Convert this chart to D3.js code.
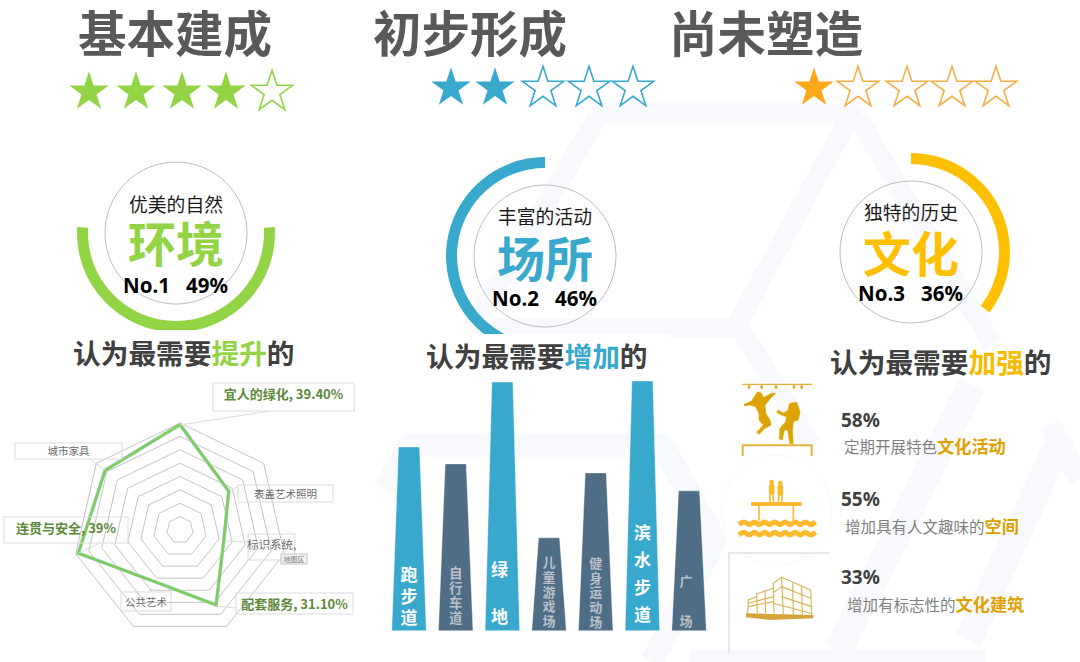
<!DOCTYPE html>
<html><head><meta charset="utf-8">
<script src="https://cdn.jsdelivr.net/npm/d3@7/dist/d3.min.js"></script>
<style>html,body{margin:0;padding:0;background:#fff}svg{display:block}text{font-family:"Noto Sans CJK SC","Noto Sans",sans-serif}</style>
</head><body><svg id="c" width="1080" height="662" viewBox="0 0 1080 662"></svg>
<script>
// ---- data ----
const headlines = ["基本建成","初步形成","尚未塑造"];
const starCounts = [4,2,1];
const circleLabels = ["优美的自然","丰富的活动","独特的历史"];
const circleWords = ["环境","场所","文化"];
const ranks = ["No.1","No.2","No.3"];
const shares = [49,46,36];
const subtitlePrefix = "认为最需要";
const subtitleWords = ["提升","增加","加强"];
const radarCats = ["宜人的绿化","表盖艺术照明","标识系统","配套服务","公共艺术","连贯与安全","城市家具"];
const radarVals = [39.4,23.3,16.8,31.1,21.5,39,35.8];
const barCats = ["跑步道","自行车道","绿地","儿童游戏场","健身运动场","滨水步道","广场"];
const barVals = [184,167,249,93,158,250,140];
const barHighlight = [true,false,true,false,false,true,false];
const listPct = ["58%","55%","33%"];
const listText = ["定期开展特色","增加具有人文趣味的","增加有标志性的"];
const listBold = ["文化活动","空间","文化建筑"];

// ---- styles ----
const GREEN="#92d446",BLUE="#38a8cd",YELLOW="#ffc000",SLATE="#4f6d85",GOLD="#e0a000";
const svg=d3.select("#c");

// ---- watermark ----
const wm=svg.append("g").attr("fill","none").attr("stroke","#f7f9fc").attr("stroke-linejoin","round").attr("stroke-linecap","butt");
[[[[472,328],[600,113],[852,113],[735,328],[472,328]],20],
 [[[858,118],[993,345]],20],[[[740,328],[812,445]],20],
 [[[385,490],[410,445],[662,445],[715,540],[652,662]],24],
 [[[972,385],[838,650]],28],[[[1062,436],[968,640]],28],[[[690,656],[985,656]],13],[[[1050,425],[1080,480]],22]]
 .forEach(([p,w])=>wm.append("path").attr("d",d3.line()(p)).attr("stroke-width",w));
svg.append("circle").attr("cx",777).attr("cy",510).attr("r",55).attr("fill","#fff").attr("stroke","#f8f8f9");
svg.append("path").attr("d","M729 653V553H829").attr("fill","none").attr("stroke","#e6e8ec").attr("stroke-width",2);

// ---- headlines + stars ----
const hx=[175,470,766], colors=[GREEN,BLUE,YELLOW];
headlines.forEach((t,i)=>svg.append("text").attr("x",hx[i]).attr("y",52).attr("text-anchor","middle")
  .attr("font-size",48.5).attr("font-weight",700).attr("fill","#595959").text(t));
const starX=[[89,136,182,226,272],[451,495,543,589,633],[814,858,907,952,996]];
const starY=[92,88,88], starFill=[GREEN,BLUE,"#ffa71a"], starLine=[GREEN,BLUE,"#f5ae45"];
const filledStar=d3.symbol().type(d3.symbolStar).size(480)(), openStar=d3.symbol().type(d3.symbolStar).size(530)();
starX.forEach((xs,i)=>xs.forEach((x,j)=>{
  const f=j<starCounts[i];
  svg.append("path").attr("d",f?filledStar:openStar).attr("transform",`translate(${x},${starY[i]})`)
    .attr("fill",f?starFill[i]:"#fff").attr("stroke",starLine[i]).attr("stroke-width",f?0:1.6);
}));

// ---- ring gauges ----
const cx=[176,545,911], cy=[233,256,252], tx=[176,545,911];
const labelY=[212,224,220], wordY=[262,277,272], rankY=[293,306,301];
const rad=d=>d*Math.PI/180;
const deg=d3.scaleLinear().domain([0,100]).range([0,360]);
const arcs=[[86.5,273.5],[-deg(shares[1]),0],[0,deg(shares[2])-2]];
const ring=d3.arc().innerRadius(88).outerRadius(99);
cx.forEach((x,i)=>{
  svg.append("path").attr("transform",`translate(${x},${cy[i]})`).attr("fill",colors[i])
    .attr("d",ring({startAngle:rad(arcs[i][0]),endAngle:rad(arcs[i][1])}));
  svg.append("circle").attr("cx",x).attr("cy",cy[i]).attr("r",71).attr("fill","none").attr("stroke","#bdbdbd").attr("stroke-width",1);
  svg.append("text").attr("x",tx[i]).attr("y",labelY[i]).attr("text-anchor","middle").attr("font-size",18.8).attr("fill","#1a1a1a").text(circleLabels[i]);
  svg.append("text").attr("x",tx[i]).attr("y",wordY[i]).attr("text-anchor","middle").attr("font-size",48).attr("font-weight",700).attr("fill",colors[i]).text(circleWords[i]);
  svg.append("text").attr("x",tx[i]-.5).attr("y",rankY[i]).attr("text-anchor","middle").attr("font-size",20.5).attr("font-weight",700).attr("fill","#000")
    .attr("style","font-family:'Noto Sans',sans-serif").text(ranks[i]+"\u00a0\u00a0\u00a0"+shares[i]+"%");
});

// ---- subtitles ----
const subX=[73,426,830], subY=[364,367,373];
svg.append("rect").attr("x",60).attr("y",330).attr("width",250).attr("height",40).attr("fill","#fff");
svg.append("rect").attr("x",420).attr("y",334).attr("width",250).attr("height",48).attr("fill","#fff");
subX.forEach((x,i)=>{
  const t=svg.append("text").attr("x",x).attr("y",subY[i]).attr("font-size",27.7).attr("font-weight",700).attr("fill","#404040");
  t.append("tspan").text(subtitlePrefix);
  t.append("tspan").attr("fill",["#92d446",BLUE,"#f5bc00"][i]).text(subtitleWords[i]);
  t.append("tspan").text("的");
});

// ---- radar ----
const radarC=[180,530];
const r=d3.scaleLinear().domain([0,40]).range([0,107]);
const ang=d=>d*2*Math.PI/radarCats.length;
const radar=svg.append("g").attr("transform",`translate(${radarC})`);
const polyLine=d3.lineRadial().curve(d3.curveLinearClosed).angle((d,i)=>ang(i)).radius(d=>r(d));
d3.range(5,45,5).forEach(v=>radar.append("path").attr("d",polyLine(radarCats.map(()=>v)))
  .attr("fill","none").attr("stroke","#c4c4c4").attr("stroke-width",1));
radar.append("path").attr("d",polyLine(radarVals)).attr("fill","none").attr("stroke","#a9d4ee").attr("stroke-width",3.6);
radar.append("path").attr("d",polyLine(radarVals)).attr("fill","none").attr("stroke","#82cc5a").attr("stroke-width",2.7).attr("stroke-linejoin","round");
const lab=[
 {t:radarCats[0]+", "+radarVals[0].toFixed(2)+"%",b:[213,383,141,28],bold:1,lx:[[180,425],[270,411]]},
 {t:radarCats[1],b:[238,485,95,17],lx:[[230,490],[238,487]]},
 {t:radarCats[2]+",",b:[248,534,47,26],lx:[[225,541],[248,542]],size:11.5},
 {t:radarCats[3]+", "+radarVals[3].toFixed(2)+"%",b:[236,593,117,21],bold:1,lx:[[217,606],[236,608]]},
 {t:radarCats[4],b:[121,592,50,19],lx:[[152,588],[150,592]]},
 {t:radarCats[5]+", "+radarVals[5]+"%",b:[4,517,124,26],bold:1,lx:[[79,553],[100,543]]},
 {t:radarCats[6],b:[15,443,107,16],lx:[[105,470],[90,459]]}
];
lab.forEach(d=>{
  svg.append("path").attr("d",d3.line()(d.lx)).attr("stroke","#dcdcdc").attr("fill","none");
  svg.append("rect").attr("x",d.b[0]).attr("y",d.b[1]).attr("width",d.b[2]).attr("height",d.b[3]).attr("fill","none").attr("stroke","#dcdcdc").attr("stroke-width",1);
  svg.append("text").attr("x",d.b[0]+d.b[2]/2).attr("y",d.b[1]+Math.min(d.b[3],21)/2+(d.bold?5:4)).attr("text-anchor","middle")
    .attr("font-size",d.bold?13:(d.size||10.5)).attr("font-weight",d.bold?700:400).attr("fill",d.bold?"#5c8a3a":"#6b6b6b").text(d.t);
});
svg.append("rect").attr("x",281).attr("y",554).attr("width",26).attr("height",10).attr("fill","#f3f3f3").attr("stroke","#c4c4c4");
svg.append("text").attr("x",294).attr("y",562).attr("text-anchor","middle").attr("font-size",7).attr("fill","#777").text("地图区");

// ---- bars ----
const bx=d3.scaleBand().domain(barCats).range([385.7,712.4]);
const by=d3.scaleLinear().domain([0,250]).range([630.7,381]);
const barTop=.225, barBot=.37;
const barText={ // size, first-char baseline, step
 "跑步道":[17,581,21.7],"自行车道":[13.5,578,15],"绿地":[17,576,46.6],"儿童游戏场":[13,567,14.8],
 "健身运动场":[13,568,14.7],"滨水步道":[17,539,27.3],"广场":[13,586,40]};
const barOff=[0,0,-3,0,0,0,-3];
barCats.forEach((c,i)=>{
  const m=bx(c)+bx.bandwidth()/2, w=bx.bandwidth();
  svg.append("path").attr("d",d3.line()([[m-w*barTop,by(barVals[i])],[m+w*barTop,by(barVals[i])],[m+w*barBot,by(0)],[m-w*barBot,by(0)]])+"Z")
    .attr("fill",barHighlight[i]?BLUE:SLATE).attr("stroke","#fff").attr("stroke-opacity",.5).attr("stroke-width",.8);
  const [s,y0,st]=barText[c];
  const t=svg.append("text").attr("font-size",s).attr("font-weight",700).attr("text-anchor","middle")
    .attr("fill",barHighlight[i]?"#fff":"#b8bfc8");
  Array.from(c).forEach((ch,k)=>t.append("tspan").attr("x",m+barOff[i]).attr("y",y0+k*st).text(ch));
});

// ---- list ----
const ly=[420,499,577], sy=[453,533,611], sx=[844,845,847];
listPct.forEach((p,i)=>{
  svg.append("text").attr("x",841).attr("y",ly[i]+7).attr("font-size",19).attr("font-weight",700).attr("fill","#404040").attr("style","font-family:'Noto Sans',sans-serif").text(p);
  const t=svg.append("text").attr("x",sx[i]).attr("y",sy[i]).attr("font-size",15.5).attr("fill","#7f7f7f");
  t.append("tspan").text(listText[i]);
  t.append("tspan").attr("font-weight",700).attr("font-size",17.2).attr("fill",GOLD).text(listBold[i]);
});

// ---- icons ----
const ic=svg.append("g").attr("transform","translate(720,370) scale(0.3333)");
const G1="#dca400",G2="#fdb92e",G3="#d4a63a";
const L=d3.line();
const st=(p,c,w)=>ic.append("path").attr("d",L(p)).attr("fill","none").attr("stroke",c).attr("stroke-width",w).attr("stroke-linecap","round").attr("stroke-linejoin","round");
st([[68,43],[275,43]],"#e3b23a",4);
[87,125,168,222,245].forEach(x=>st([[x,49],[x,53]],"#e3b23a",8));
st([[68,256],[68,226],[275,226],[275,256]],"#e3b23a",6);
const blob=(pts)=>ic.append("path").attr("transform","translate(45,15)").attr("d",L(pts)+"Z").attr("fill",G1).attr("stroke",G1).attr("stroke-width",2).attr("stroke-linejoin","round");
blob([[28,88],[50,78],[60,62],[68,50],[80,55],[85,68],[110,55],[122,55],[105,72],[90,90],[92,115],[105,135],[108,150],[90,160],[72,178],[65,172],[85,150],[72,135],[72,115],[62,95],[45,90],[28,92]]);
blob([[165,85],[185,82],[195,110],[190,135],[175,140],[172,170],[175,205],[165,207],[158,165],[148,165],[142,195],[133,192],[135,160],[152,140],[155,125],[140,120],[125,112],[130,105],[145,115],[160,105],[162,90]]);
// icon 2
ic.append("rect").attr("x",93).attr("y",396).attr("width",152).attr("height",12).attr("rx",3).attr("fill",G2);
[117,220].forEach(x=>st([[x,408],[x,450]],G2,5));
const wave=y=>[57,72,88,103,118,134,149,164,180,195,210,226,241,256,272,287].map((x,i)=>[x,y+(i%2?-4:4)]);
[460,491].forEach(y=>ic.append("path").attr("d",d3.line().curve(d3.curveMonotoneX)(wave(y))).attr("fill","none").attr("stroke",G2).attr("stroke-width",15));
[[155,336],[181,339]].forEach(([x,y])=>{
  ic.append("circle").attr("cx",x).attr("cy",y).attr("r",7).attr("fill",G2);
  st([[x,y+13],[x,y+30]],G2,17);
  st([[x-5,y+30],[x-5,394]],G2,5);st([[x+5,y+30],[x+5,394]],G2,5);
});
// icon 3
ic.append("path").attr("d",L([[78,730],[280,735],[280,745],[150,750],[78,742]])+"Z").attr("fill",G3);
const bl="#d9b558";
[[[160,640],[185,622],[272,660],[275,735]],[[160,640],[162,728]],[[185,622],[190,735]],[[218,640],[220,735]],[[245,650],[247,735]],
 [[185,650],[272,685]],[[185,680],[275,710]],[[160,668],[185,650]],[[110,672],[160,655]],[[110,672],[112,728]],[[85,690],[110,680]],
 [[85,690],[83,730]],[[135,662],[137,728]],[[85,710],[160,695]],[[160,700],[272,730]],[[85,700],[160,680]]].forEach(p=>st(p,bl,3.5));
</script></body></html>
